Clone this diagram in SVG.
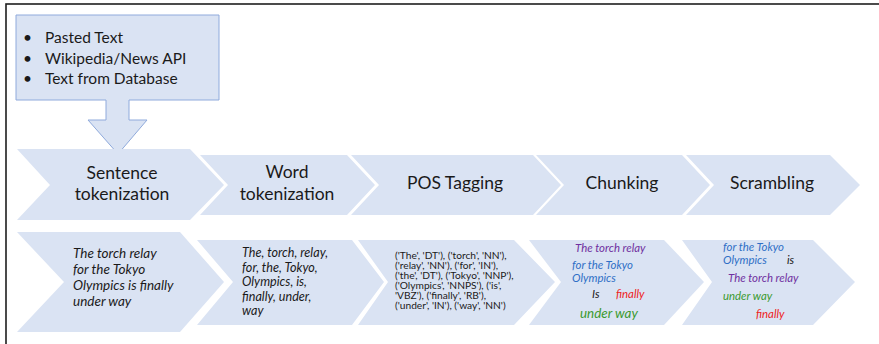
<svg xmlns="http://www.w3.org/2000/svg" width="879" height="344" viewBox="0 0 879 344">
<style>
.bg{fill:#ffffff}
.frame{fill:none;stroke:#1e1e1e;stroke-width:1.6}
.chev{fill:#dae3f3}
.callout{fill:#dae3f3;stroke:#8faadc;stroke-width:1}
text{font-family:Lato,"Liberation Sans",sans-serif;fill:#1a1a1a}
.head{font-size:17.5px;text-anchor:middle}
.bul{font-size:15.5px}
.it{font-style:italic}
.s1{font-size:13.5px}
.s2{font-size:12.6px}
.s3{font-size:10.2px}
.s4{font-size:11.4px}
.purple{fill:#7030a0}
.blue{fill:#2f6fc6}
.red{fill:#ee2222}
.green{fill:#3b9a2f}
</style>
<rect class="bg" x="0" y="0" width="879" height="344"/>
<rect class="frame" x="6" y="4" width="900" height="400"/>

<g id="source">
<path class="callout" d="M16,15 H219 V100 H129 V120 H147 L118,154 L88,120 H106 V100 H16 Z"/>
<text class="bul" x="23" y="43">•</text>
<text class="bul" x="45" y="43">Pasted Text</text>
<text class="bul" x="23" y="64">•</text>
<text class="bul" x="45" y="64">Wikipedia/News API</text>
<text class="bul" x="23" y="84">•</text>
<text class="bul" x="45" y="84">Text from Database</text>
</g>

<g id="connectors"></g>

<g id="step-sentence">
<polygon class="chev" points="17,149 190,149 224,185 190,220 17,220 50,185"/>
<text class="head" x="122" y="179">Sentence</text>
<text class="head" x="122" y="200">tokenization</text>
</g>
<g id="step-word">
<polygon class="chev" points="200,155 347,155 375,185 347,215 200,215 228,185"/>
<text class="head" x="287" y="178">Word</text>
<text class="head" x="287" y="200">tokenization</text>
</g>
<g id="step-pos">
<polygon class="chev" points="351,155 533,155 561,185 533,215 351,215 379,185"/>
<text class="head" x="455" y="189">POS Tagging</text>
</g>
<g id="step-chunk">
<polygon class="chev" points="536,155 682,155 710,185 682,215 536,215 564,185"/>
<text class="head" x="622" y="189">Chunking</text>
</g>
<g id="step-scramble">
<polygon class="chev" points="686,155 830,155 860,185 830,215 686,215 714,185"/>
<text class="head" x="772" y="189">Scrambling</text>
</g>

<g id="out-sentence">
<polygon class="chev" points="17,232 180,232 224,282 180,332 17,332 64,282"/>
<text class="it s1" x="73" y="258">The torch relay</text>
<text class="it s1" x="73" y="274">for the Tokyo</text>
<text class="it s1" x="73" y="290">Olympics is finally</text>
<text class="it s1" x="73" y="306">under way</text>
</g>
<g id="out-word">
<polygon class="chev" points="197,240 352,240 384,282 352,325 197,325 233,282"/>
<text class="it s2" x="242" y="257">The, torch, relay,</text>
<text class="it s2" x="242" y="271.5">for, the, Tokyo,</text>
<text class="it s2" x="242" y="286">Olympics, is,</text>
<text class="it s2" x="242" y="300.5">finally, under,</text>
<text class="it s2" x="242" y="315">way</text>
</g>
<g id="out-pos">
<polygon class="chev" points="358,240 514,240 555,282 514,325 358,325 388,282"/>
<text class="s3" x="395" y="259"><tspan x="395" y="259">('The', 'DT'), ('torch', 'NN'),</tspan><tspan x="395" y="269">('relay', 'NN'), ('for', 'IN'),</tspan><tspan x="395" y="279">('the', 'DT'), ('Tokyo', 'NNP'),</tspan><tspan x="395" y="289">('Olympics', 'NNPS'), ('is',</tspan><tspan x="395" y="299">'VBZ'), ('finally', 'RB'),</tspan><tspan x="395" y="309">('under', 'IN'), ('way', 'NN')</tspan></text>
</g>
<g id="out-chunk">
<polygon class="chev" points="529,240 664,240 704,282 664,325 529,325 561,282"/>
<text class="it s4 purple" x="575" y="252">The torch relay</text>
<text class="it s4 blue" x="572" y="269">for the Tokyo</text>
<text class="it s4 blue" x="572" y="282">Olympics</text>
<text class="it s4" x="592" y="298">Is</text>
<text class="it s4 red" x="616" y="298">finally</text>
<text class="it green" style="font-size:13.4px" x="580" y="318">under way</text>
</g>
<g id="out-scramble">
<polygon class="chev" points="682,240 813,240 855,282 813,325 682,325 712,282"/>
<text class="it s4 blue" x="723" y="251">for the Tokyo</text>
<text class="it s4 blue" x="723" y="264">Olympics</text>
<text class="it s4" x="787" y="264">is</text>
<text class="it s4 purple" x="728" y="282">The torch relay</text>
<text class="it s4 green" x="723" y="300">under way</text>
<text class="it s4 red" x="756" y="318">finally</text>
</g>
</svg>
